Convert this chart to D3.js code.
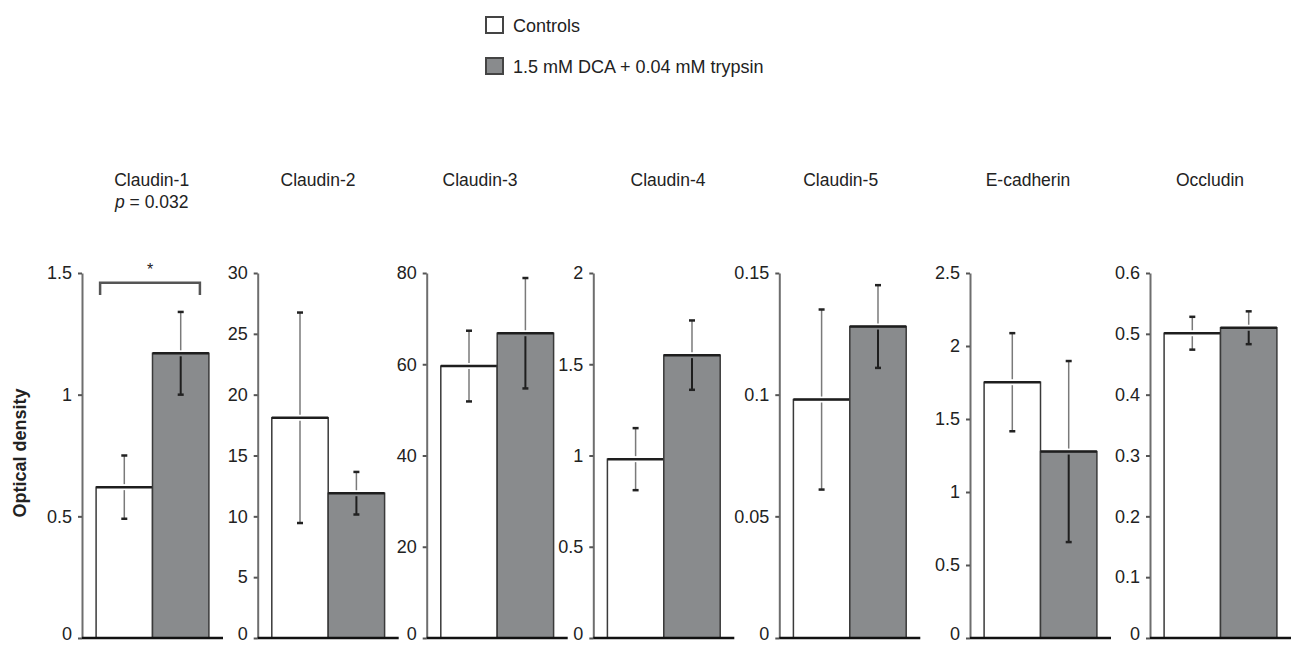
<!DOCTYPE html>
<html>
<head>
<meta charset="utf-8">
<script src="https://cdn.jsdelivr.net/npm/d3@7"></script>
<style>
  body { margin: 0; background: #fff; }
  text { font-family: "Liberation Sans", Arial, sans-serif; fill: #222; }
</style>
</head>
<body>
<script>
let width = 1291,
    height = 645;

// data
let genes = ["Claudin-1", "Claudin-2", "Claudin-3", "Claudin-4", "Claudin-5", "E-cadherin", "Occludin"];
let controls = [0.62, 18.1, 59.6, 0.98, 0.098, 1.752, 0.501];
let controlsErr = [0.13, 8.65, 7.75, 0.17, 0.037, 0.336, 0.027];
let treated = [1.17, 11.9, 66.8, 1.55, 0.128, 1.277, 0.51];
let treatedErr = [0.17, 1.75, 12.1, 0.19, 0.017, 0.62, 0.027];
let yMax = [1.5, 30, 80, 2, 0.15, 2.5, 0.6];
let tickStep = [0.5, 5, 20, 0.5, 0.05, 0.5, 0.1];
let groups = ["Controls", "1.5 mM DCA + 0.04 mM trypsin"];

// layout
let axisX = [82, 257.7, 426.7, 593.3, 779.3, 970, 1150];
let titleX = [151.7, 318, 480, 668, 840.7, 1028, 1210];
let plotW = 141,
    plotTop = 273,
    plotBottom = 638;
let fills = ["#ffffff", "#898b8d"];

let svg = d3.select("body")
    .append("svg")
    .attr("width", width)
    .attr("height", height);

// legend
let legend = svg.append("g");
groups.forEach((g, i) => {
  let ly = 17 + i * 41;
  legend.append("rect")
      .attr("x", 486).attr("y", ly)
      .attr("width", 17).attr("height", 16)
      .attr("fill", fills[i])
      .attr("stroke", "#444")
      .attr("stroke-width", 2);
  legend.append("text")
      .attr("x", 513).attr("y", ly + 14.5)
      .style("font-size", "18px")
      .text(g);
});

// y label
svg.append("text")
    .attr("transform", "translate(26,453) rotate(-90)")
    .style("text-anchor", "middle")
    .style("font-size", "18px")
    .style("font-weight", "bold")
    .text("Optical density");

genes.forEach((gene, i) => {
  let g = svg.append("g")
      .attr("transform", "translate(" + axisX[i] + ",0)");

  let y = d3.scaleLinear()
      .domain([0, yMax[i]])
      .range([plotBottom, plotTop]);

  let x = d3.scaleBand()
      .domain([0, 1])
      .range([0, plotW])
      .paddingInner(0)
      .paddingOuter(0.25);

  let ticks = d3.range(0, yMax[i] + tickStep[i] / 2, tickStep[i]);

  let ax = g.append("g")
      .call(d3.axisLeft(y)
          .tickValues(ticks)
          .tickSize(4)
          .tickSizeOuter(0)
          .tickPadding(6)
          .tickFormat(d => String(+d.toFixed(3))));
  ax.select(".domain").attr("stroke", "#6e6e6e").attr("stroke-width", 2);
  ax.selectAll(".tick line").attr("stroke", "#555").attr("stroke-width", 2);
  ax.selectAll(".tick text")
      .attr("fill", "#222")
      .attr("dy", d => d === 0 ? "0.1em" : "0.32em")
      .style("font-size", "18px")
      .style("font-family", "'Liberation Sans', Arial, sans-serif");

  let vals = [controls[i], treated[i]];
  let errs = [controlsErr[i], treatedErr[i]];

  vals.forEach((v, k) => {
    let bx = x(k), bw = x.bandwidth();
    g.append("rect")
        .attr("x", bx).attr("y", y(v))
        .attr("width", bw).attr("height", y(0) - y(v))
        .attr("fill", fills[k])
        .attr("stroke", "#3a3a3a")
        .attr("stroke-width", 1.5);
    g.append("line")
        .attr("x1", bx).attr("x2", bx + bw)
        .attr("y1", y(v)).attr("y2", y(v))
        .attr("stroke", "#1e1e1e")
        .attr("stroke-width", 2.5);

    let cx = bx + bw / 2;
    // upper whisker
    g.append("line")
        .attr("x1", cx).attr("x2", cx)
        .attr("y1", y(v + errs[k])).attr("y2", y(v) - 3)
        .attr("stroke", "#7a7a7a").attr("stroke-width", 1.5);
    // lower whisker
    g.append("line")
        .attr("x1", cx).attr("x2", cx)
        .attr("y1", y(v) + 3).attr("y2", y(v - errs[k]))
        .attr("stroke", k === 0 ? "#7a7a7a" : "#1e1e1e")
        .attr("stroke-width", k === 0 ? 1.5 : 2);
    [v + errs[k], v - errs[k]].forEach(e => {
      g.append("line")
          .attr("x1", cx - 3).attr("x2", cx + 3)
          .attr("y1", y(e)).attr("y2", y(e))
          .attr("stroke", "#222").attr("stroke-width", 2.5);
    });
  });

  // baseline
  g.append("line")
      .attr("x1", 0).attr("x2", plotW)
      .attr("y1", y(0)).attr("y2", y(0))
      .attr("stroke", "#111").attr("stroke-width", 2.5);

  // title
  svg.append("text")
      .attr("x", titleX[i]).attr("y", 186)
      .style("text-anchor", "middle")
      .style("font-size", "17.5px")
      .text(gene);

  if (i === 0) {
    svg.append("text")
        .attr("x", titleX[i]).attr("y", 208)
        .style("text-anchor", "middle")
        .style("font-size", "17.5px")
        .html("<tspan font-style='italic'>p</tspan> = 0.032");

    let x0 = x(0) + 4,
        x1 = x(1) + x.bandwidth() - 9,
        by = y(1.46),
        bt = y(1.41);
    g.append("path")
        .attr("d", "M" + x0 + "," + bt + "V" + by + "H" + x1 + "V" + bt)
        .attr("fill", "none")
        .attr("stroke", "#555")
        .attr("stroke-width", 2.5);
    g.append("text")
        .attr("x", (x0 + x1) / 2).attr("y", by - 8)
        .style("text-anchor", "middle")
        .style("font-size", "16px")
        .text("*");
  }
});
</script>
</body>
</html>
